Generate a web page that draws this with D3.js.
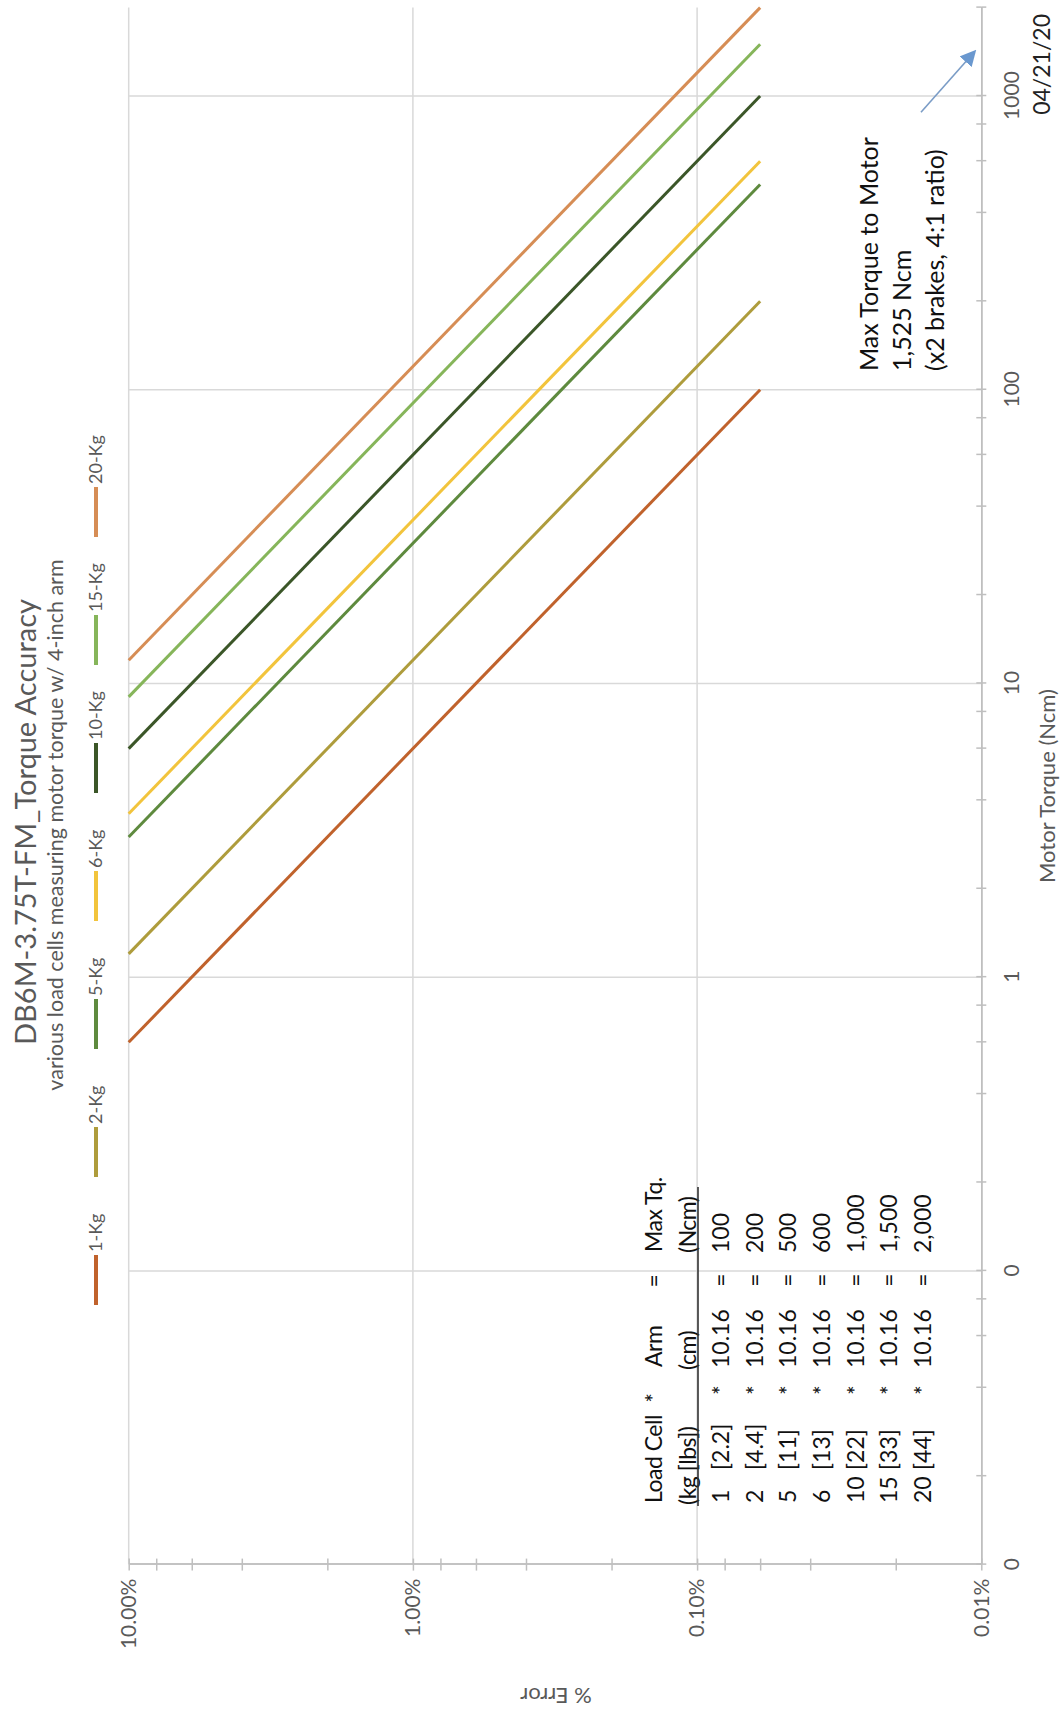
<!DOCTYPE html>
<html>
<head>
<meta charset="utf-8">
<script src="https://cdn.jsdelivr.net/npm/d3@7"></script>
<style>
  html, body { margin: 0; padding: 0; background: #fff; }
  svg { display: block; font-family: Lato, 'Open Sans', sans-serif; }
</style>
</head>
<body>
<svg id="chart" width="1063" height="1710"></svg>
<script>
// series: one line per load cell, from 10% error down to its max torque
var loadCells = ['1-Kg', '2-Kg', '5-Kg', '6-Kg', '10-Kg', '15-Kg', '20-Kg']
var startTorque = [0.6, 1.2, 3, 3.6, 6, 9, 12]
var startError = [10, 10, 10, 10, 10, 10, 10]
var maxTorque = [100, 200, 500, 600, 1000, 1500, 2000]
var endError = [0.06, 0.06, 0.06, 0.06, 0.06, 0.06, 0.06]

// table values
var kgValues = ['1', '2', '5', '6', '10', '15', '20']
var lbsValues = ['[2.2]', '[4.4]', '[11]', '[13]', '[22]', '[33]', '[44]']
var armCm = ['10.16', '10.16', '10.16', '10.16', '10.16', '10.16', '10.16']
var maxTqLabels = ['100', '200', '500', '600', '1,000', '1,500', '2,000']

// axes
var torqueTicks = [0.01, 0.1, 1, 10, 100, 1000]
var torqueTickLabels = ['0', '0', '1', '10', '100', '1000']
var errorTicks = [10, 1, 0.1, 0.01]
var errorTickLabels = ['10.00%', '1.00%', '0.10%', '0.01%']
var minorSteps = [2, 4, 6, 8]

// annotation arrow (torque, error)
var arrowFrom = [880, 0.0163]
var arrowTo = [1410, 0.0106]
var noteLines = ['Max Torque to Motor', '1,525 Ncm', '(x2 brakes, 4:1 ratio)']

var colors = ['#C0622C', '#AE9C3C', '#5E8A3E', '#F2C43C', '#3B5628', '#86B55A', '#D68D55']

var W = 1710 // the chart is laid out landscape then turned onto the portrait page
var svg = d3.select('#chart')
var g = svg.append('g').attr('transform', 'translate(0,' + W + ') rotate(-90)')

var x = d3.scaleLog().domain([0.01, 2000]).range([145.4, 1702.4])
var y = d3.scaleLog().domain([10, 0.01]).range([128.7, 981.3])

var gridColor = '#D9D9D9'
var axisColor = '#BFBFBF'
var labelColor = '#595959'

// gridlines
g.append('g').selectAll('line')
  .data(torqueTicks.slice(1))
  .enter().append('line')
  .attr('x1', (d) => x(d)).attr('x2', (d) => x(d))
  .attr('y1', y(10)).attr('y2', y(0.01))
  .attr('stroke', gridColor).attr('stroke-width', 1.5)
g.append('g').selectAll('line')
  .data(errorTicks.slice(0, 3))
  .enter().append('line')
  .attr('x1', x(0.01)).attr('x2', x(2000))
  .attr('y1', (d) => y(d)).attr('y2', (d) => y(d))
  .attr('stroke', gridColor).attr('stroke-width', 1.5)

// minor tick positions
var torqueMinor = []
torqueTicks.forEach(function (d) {
  minorSteps.forEach(function (m) { if (d * m <= 2000) torqueMinor.push(d * m) })
})
var errorMinor = []
errorTicks.slice(1).forEach(function (d) {
  minorSteps.forEach(function (m) { errorMinor.push(d * m) })
})

function styleAxis (sel) {
  sel.select('.domain').attr('stroke', axisColor).attr('stroke-width', 1.5)
  sel.selectAll('.tick line').attr('stroke', axisColor).attr('stroke-width', 1.5)
  sel.selectAll('.tick text').attr('fill', labelColor).style('font-size', '21px')
    .style('font-family', 'Lato, sans-serif')
}

// % error axis (left, cross ticks)
g.append('g').attr('transform', 'translate(' + x(0.01) + ',0)')
  .call(d3.axisLeft(y).tickValues(errorTicks.concat(errorMinor)).tickSizeInner(6).tickSizeOuter(0)
    .tickPadding(8)
    .tickFormat((d) => { var i = errorTicks.indexOf(d); return i >= 0 ? errorTickLabels[i] : '' }))
  .call(styleAxis)
g.append('g').attr('transform', 'translate(' + x(0.01) + ',0)')
  .call(d3.axisRight(y).tickValues(errorTicks.concat(errorMinor)).tickSizeInner(6).tickSizeOuter(0).tickFormat(''))
  .call(styleAxis)

// torque axis (bottom, cross ticks)
g.append('g').attr('transform', 'translate(0,' + y(0.01) + ')')
  .call(d3.axisBottom(x).tickValues(torqueTicks.concat(torqueMinor)).tickSizeInner(5).tickSizeOuter(0)
    .tickPadding(18)
    .tickFormat((d) => { var i = torqueTicks.indexOf(d); return i >= 0 ? torqueTickLabels[i] : '' }))
  .call(styleAxis)
g.append('g').attr('transform', 'translate(0,' + y(0.01) + ')')
  .call(d3.axisTop(x).tickValues(torqueTicks.concat(torqueMinor)).tickSizeInner(5).tickSizeOuter(0).tickFormat(''))
  .call(styleAxis)

// series lines
var line = d3.line().x((d) => x(d[0])).y((d) => y(d[1]))
g.append('g').selectAll('path')
  .data(loadCells)
  .enter().append('path')
  .attr('d', (d, i) => line([[startTorque[i], startError[i]], [maxTorque[i], endError[i]]]))
  .attr('fill', 'none')
  .attr('stroke', (d, i) => colors[i])
  .attr('stroke-width', 3)

// titles
g.append('text').attr('x', 888).attr('y', 36)
  .attr('text-anchor', 'middle').attr('fill', labelColor)
  .style('font-size', '29px').text('DB6M-3.75T-FM_Torque Accuracy')
g.append('text').attr('x', 885).attr('y', 63)
  .attr('text-anchor', 'middle').attr('fill', labelColor)
  .style('font-size', '21.5px').text('various load cells measuring motor torque w/ 4-inch arm')

// axis titles
g.append('text').attr('x', x(Math.sqrt(0.01 * 2000))).attr('y', 1055)
  .attr('text-anchor', 'middle').attr('fill', labelColor)
  .style('font-size', '22px').text('Motor Torque (Ncm)')
g.append('text').attr('transform', 'translate(22,' + 556 + ') rotate(-90)')
  .attr('text-anchor', 'middle').attr('fill', labelColor)
  .style('font-size', '22px').text('% Error')

// legend
var legend = g.append('g').attr('transform', 'translate(405,96)')
var item = legend.selectAll('g')
  .data(loadCells)
  .enter().append('g')
  .attr('transform', (d, i) => 'translate(' + (i * 128) + ',0)')
item.append('line').attr('x1', 0).attr('x2', 50)
  .attr('stroke', (d, i) => colors[i]).attr('stroke-width', 4)
item.append('text').attr('x', 53).attr('dy', '0.35em')
  .attr('fill', labelColor).style('font-size', '18px')
  .text((d) => d)

// date
g.append('text').attr('x', 1696).attr('y', 1050)
  .attr('text-anchor', 'end').attr('fill', '#222')
  .style('font-size', '23px').text('04/21/20')

// annotation
g.append('g').selectAll('text')
  .data(noteLines)
  .enter().append('text')
  .attr('x', 1339).attr('y', (d, i) => 878 + i * 33)
  .attr('fill', '#111').style('font-size', '25px')
  .text((d) => d)

svg.append('defs').append('marker')
  .attr('id', 'arrowhead').attr('viewBox', '0 0 10 10')
  .attr('refX', 8).attr('refY', 5)
  .attr('markerWidth', 16).attr('markerHeight', 16)
  .attr('markerUnits', 'userSpaceOnUse')
  .attr('orient', 'auto')
  .append('path').attr('d', 'M0,0 L10,5 L0,10 Z').attr('fill', '#6A98CF')
g.append('line')
  .attr('x1', x(arrowFrom[0])).attr('y1', y(arrowFrom[1]))
  .attr('x2', x(arrowTo[0])).attr('y2', y(arrowTo[1]))
  .attr('stroke', '#7A9CC6').attr('stroke-width', 1.6)
  .attr('marker-end', 'url(#arrowhead)')

// calculation table
var rowY = (i) => 662 + i * 33.6
var tbl = g.append('g').attr('fill', '#111').style('font-size', '23px')
var header = [['Load Cell', 207, 'start'], ['*', 312, 'middle'], ['Arm', 343, 'start'], ['=', 429, 'middle'], ['Max Tq.', 458, 'start']]
var units = [['(kg [lbs])', 205, 'start'], ['(cm)', 340, 'start'], ['(Ncm)', 457, 'start']]
header.forEach(function (h) {
  tbl.append('text').attr('x', h[1]).attr('y', rowY(0)).attr('text-anchor', h[2])
    .style('letter-spacing', '-0.5px').text(h[0])
})
units.forEach(function (h) {
  tbl.append('text').attr('x', h[1]).attr('y', rowY(1)).attr('text-anchor', h[2])
    .style('letter-spacing', '-0.5px').text(h[0])
})
tbl.append('line').attr('x1', 204).attr('x2', 523)
  .attr('y1', 698).attr('y2', 698)
  .attr('stroke', '#333').attr('stroke-width', 1.6)

var rows = tbl.selectAll('g.row')
  .data(kgValues)
  .enter().append('g').attr('class', 'row')
rows.append('text').attr('x', 207).attr('y', (d, i) => rowY(i + 2)).text((d) => d)
rows.append('text').attr('x', 240).attr('y', (d, i) => rowY(i + 2))
  .text((d, i) => lbsValues[i])
rows.append('text').attr('x', 320).attr('y', (d, i) => rowY(i + 2)).attr('text-anchor', 'middle').text('*')
rows.append('text').attr('x', 342).attr('y', (d, i) => rowY(i + 2)).text((d, i) => armCm[i])
rows.append('text').attr('x', 430).attr('y', (d, i) => rowY(i + 2)).attr('text-anchor', 'middle').text('=')
rows.append('text').attr('x', 457).attr('y', (d, i) => rowY(i + 2)).text((d, i) => maxTqLabels[i])
</script>
</body>
</html>
